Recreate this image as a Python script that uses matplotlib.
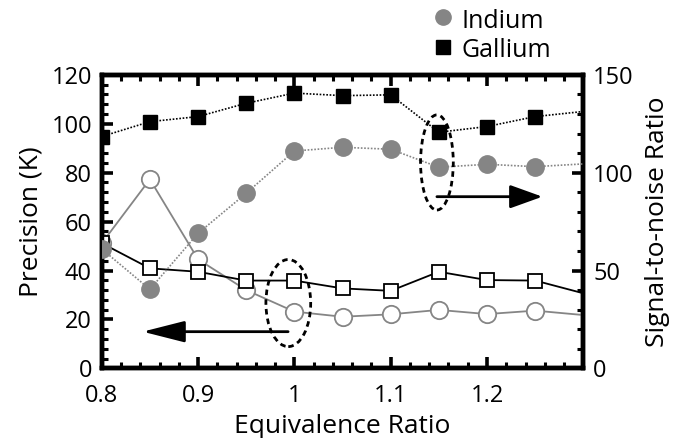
import matplotlib
matplotlib.use("Agg")
import matplotlib.pyplot as plt
from matplotlib.patches import Ellipse
from matplotlib.lines import Line2D
from matplotlib.ticker import MultipleLocator

plt.rcParams['font.family'] = ['Open Sans', 'DejaVu Sans']

# Data
eq_ratio = [0.8, 0.85, 0.9, 0.95, 1.0, 1.05, 1.1, 1.15, 1.2, 1.25, 1.3]
indium_precision = [51.1, 77.3, 44.6, 32.0, 23.2, 21.1, 22.1, 23.9, 22.2, 23.6, 21.8]
gallium_precision = [51.2, 40.9, 39.5, 35.9, 35.9, 32.7, 31.7, 39.5, 36.1, 35.9, 30.7]
indium_snr = [61.0, 40.4, 69.0, 89.5, 111.1, 113.0, 112.0, 102.8, 104.3, 103.1, 104.5]
gallium_snr = [118.5, 126.1, 128.7, 135.5, 140.7, 139.4, 139.8, 120.7, 123.6, 128.7, 131.3]
n_marked = 10

xticks = [0.8, 0.9, 1.0, 1.1, 1.2]
xticklabels = ['0.8', '0.9', '1', '1.1', '1.2']

GRAY = '#858585'

fig = plt.figure(figsize=(6.79, 4.38), dpi=100)
ax = fig.add_axes([0.1498, 0.1590, 0.7093, 0.6700])
ax2 = ax.twinx()

# Left axis: precision (open markers, solid lines)
ax.plot(eq_ratio, indium_precision, '-', color=GRAY, lw=1.3, marker='o', ms=12.5,
        mfc='white', mec=GRAY, mew=1.3, markevery=slice(0, n_marked), zorder=3)
ax.plot(eq_ratio, gallium_precision, '-', color='black', lw=1.3, marker='s', ms=9.5,
        mfc='white', mec='black', mew=1.3, markevery=slice(0, n_marked), zorder=4)

# Right axis: SNR (filled markers, dotted lines)
ax2.plot(eq_ratio, indium_snr, linestyle=(0, (1, 1)), color=GRAY, lw=1.2, marker='o', ms=12.5,
         mfc=GRAY, mec=GRAY, markevery=slice(0, n_marked), zorder=3)
ax2.plot(eq_ratio, gallium_snr, linestyle=(0, (1, 1)), color='black', lw=1.2, marker='s', ms=10.5,
         mfc='black', mec='black', markevery=slice(0, n_marked), zorder=4)

ax.set_xlim(0.8, 1.3)
ax.set_ylim(0, 120)
ax2.set_ylim(0, 150)

ax.set_xticks(xticks)
ax.set_xticklabels(xticklabels)
ax.xaxis.set_minor_locator(MultipleLocator(0.02))
ax.yaxis.set_major_locator(MultipleLocator(20))
ax.yaxis.set_minor_locator(MultipleLocator(4))
ax2.yaxis.set_major_locator(MultipleLocator(50))
ax2.yaxis.set_minor_locator(MultipleLocator(10))

for a in (ax, ax2):
    for s in a.spines.values():
        s.set_linewidth(3.2)

ax.tick_params(axis='both', which='major', direction='in', length=8, width=2.6,
               labelsize=17, top=True, right=False, pad=7)
ax.tick_params(axis='x', which='major', pad=11.5)
ax.tick_params(axis='both', which='minor', direction='in', length=4.5, width=2.2,
               top=True, right=False)
ax2.tick_params(axis='y', which='major', direction='in', length=8, width=2.6,
                labelsize=17, pad=7)
ax2.tick_params(axis='y', which='minor', direction='in', length=4.5, width=2.2)

ax.set_xlabel('Equivalence Ratio', fontsize=19, labelpad=4)
ax.set_ylabel('Precision (K)', fontsize=19, labelpad=6)
ax2.set_ylabel('Signal-to-noise Ratio', fontsize=19, labelpad=8)

# Dotted ellipses
ax2.add_patch(Ellipse((0.9937, 26.7 * 1.25), 0.0465, 35.6 * 1.25, fill=False,
                      ec='black', lw=2, linestyle=(0, (2, 1.5)), zorder=5))
ax2.add_patch(Ellipse((1.148, 84.2 * 1.25), 0.034, 38.9 * 1.25, fill=False,
                      ec='black', lw=2, linestyle=(0, (2, 1.5)), zorder=5))

# Arrows
ax2.annotate('', xy=(0.8425, 15.0 * 1.25), xytext=(0.9935, 15.0 * 1.25),
             arrowprops=dict(arrowstyle='-|>,head_length=1.3,head_width=0.33',
                             lw=2, color='black', mutation_scale=20,
                             shrinkA=0, shrinkB=0), zorder=6)
ax2.annotate('', xy=(1.2575, 70.2 * 1.25), xytext=(1.148, 70.2 * 1.25),
             arrowprops=dict(arrowstyle='-|>,head_length=1.0,head_width=0.36',
                             lw=2, color='black', mutation_scale=20,
                             shrinkA=0, shrinkB=0), zorder=6)

# Legend (outside, top right)
fig.add_artist(Line2D([0.652], [0.9605], marker='o', ms=11, color=GRAY, ls='none',
                      transform=fig.transFigure))
fig.add_artist(Line2D([0.652], [0.8934], marker='s', ms=10, color='black', ls='none',
                      transform=fig.transFigure))
fig.text(0.680, 0.9354, 'Indium', fontsize=18, va='baseline', ha='left')
fig.text(0.680, 0.8706, 'Gallium', fontsize=18, va='baseline', ha='left')

fig.savefig('out.png', dpi=100)
